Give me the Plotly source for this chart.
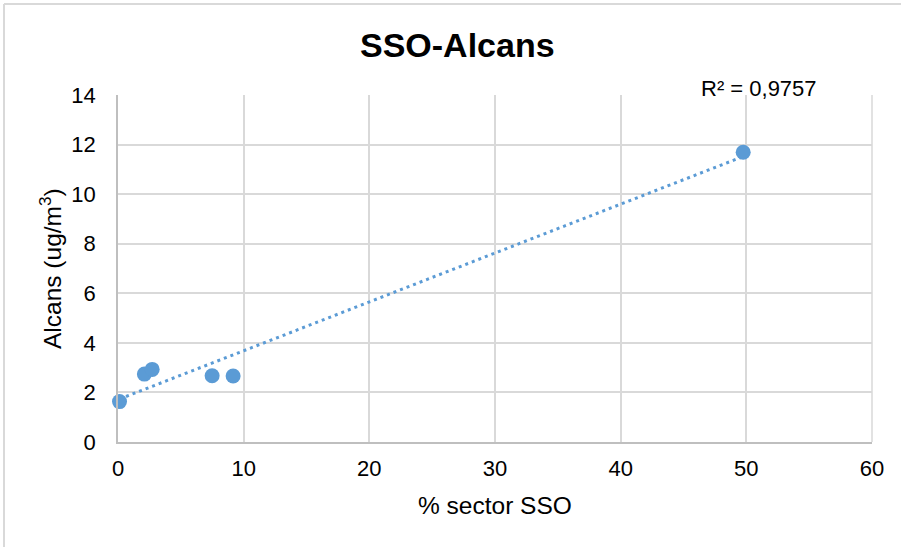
import numpy as np
import plotly.graph_objects as go

# % of the SSO sector vs. measured alkanes concentration
sector_sso = [0.12, 2.1, 2.72, 7.49, 9.16, 49.75]
alcans = [1.63, 2.74, 2.93, 2.67, 2.66, 11.69]

x_ticks = [0, 10, 20, 30, 40, 50, 60]
y_ticks = [0, 2, 4, 6, 8, 10, 12, 14]
r2_label = "R² = 0,9757"

BLUE = "#5B9BD5"
GRID = "#d9d9d9"
FONT = "Liberation Sans, Arial, sans-serif"

# linear trendline over the data range
slope, intercept = np.polyfit(sector_sso, alcans, 1)
trend_x = np.array([min(sector_sso), max(sector_sso)])
trend_y = slope * trend_x + intercept

fig = go.Figure()
fig.add_trace(go.Scatter(
    x=trend_x, y=trend_y, mode="lines",
    line=dict(color=BLUE, width=3, dash="3px,4px"),
    hoverinfo="skip", showlegend=False,
))
fig.add_trace(go.Scatter(
    x=sector_sso, y=alcans, mode="markers", cliponaxis=False,
    marker=dict(color=BLUE, size=15, line=dict(width=0)),
    showlegend=False,
))

W, H = 901, 547
L, R, T, B = 118, 29, 95, 105
pw, ph = W - L - R, H - T - B

def px_x(p):
    return (p - L) / pw

def px_y(p):
    return (H - B - p) / ph

fig.update_layout(
    width=W, height=H,
    margin=dict(l=L, r=R, t=T, b=B),
    paper_bgcolor="white", plot_bgcolor="white",
    font=dict(family=FONT, color="#000000", size=22),
    xaxis=dict(
        range=[0, 60], tickvals=x_ticks, showgrid=True, gridcolor=GRID, gridwidth=1.5,
        showline=True, linecolor="#bfbfbf", linewidth=1.5, zeroline=False,
        ticks="", ticklabelstandoff=6, tickfont=dict(size=22),
    ),
    yaxis=dict(
        range=[0, 14], tickvals=y_ticks, showgrid=True, gridcolor=GRID, gridwidth=1.5,
        showline=True, linecolor="#bfbfbf", linewidth=1.5, zeroline=False,
        ticks="", ticklabelstandoff=16, tickfont=dict(size=22),
    ),
    shapes=[
        # chart-area border (top and left edges)
        dict(type="line", xref="paper", yref="paper", x0=px_x(4), x1=px_x(W + 10),
             y0=px_y(4), y1=px_y(4), line=dict(color=GRID, width=2)),
        dict(type="line", xref="paper", yref="paper", x0=px_x(4), x1=px_x(4),
             y0=px_y(4), y1=px_y(H + 10), line=dict(color=GRID, width=2)),
        # right border of the plot area
        dict(type="line", xref="paper", yref="paper", x0=1, x1=1, y0=0, y1=1,
             line=dict(color=GRID, width=1.5)),
    ],
    annotations=[
        dict(text="<b>SSO-Alcans</b>", xref="paper", yref="paper",
             x=px_x(457), y=px_y(45), showarrow=False, xanchor="center", yanchor="middle",
             font=dict(size=34)),
        dict(text="% sector SSO", xref="paper", yref="paper",
             x=px_x(495), y=px_y(506), showarrow=False, xanchor="center", yanchor="middle",
             font=dict(size=24.5)),
        dict(text="Alcans (ug/m<sup>3</sup>)", xref="paper", yref="paper",
             x=px_x(50), y=px_y(269), showarrow=False, xanchor="center", yanchor="middle",
             textangle=-90, font=dict(size=24.5)),
        dict(text=r2_label, xref="paper", yref="paper",
             x=px_x(759), y=px_y(88), showarrow=False, xanchor="center", yanchor="middle",
             font=dict(size=22)),
    ],
)

fig.write_html("out.html")
